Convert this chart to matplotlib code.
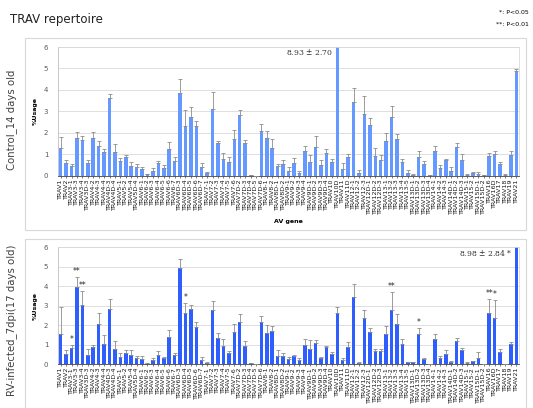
import numpy as np
import matplotlib
matplotlib.use("Agg")
import matplotlib.pyplot as plt
from matplotlib.patches import Rectangle

# TRAV gene segments (x axis)
genes = ["TRAV1", "TRAV2", "TRAV3-1", "TRAV3-3", "TRAV3-4", "TRAV3D-3",
         "TRAV4-2", "TRAV4-3", "TRAV4-4", "TRAV4D-3", "TRAV4D-4",
         "TRAV5-1", "TRAV5-2", "TRAV5-4", "TRAV5D-4",
         "TRAV6-1", "TRAV6-2", "TRAV6-3", "TRAV6-4", "TRAV6-5", "TRAV6-6", "TRAV6-7",
         "TRAV6D-3", "TRAV6D-4", "TRAV6D-5", "TRAV6D-6", "TRAV6D-7",
         "TRAV7-1", "TRAV7-2", "TRAV7-3", "TRAV7-4", "TRAV7-5", "TRAV7-6",
         "TRAV7D-2", "TRAV7D-3", "TRAV7D-4", "TRAV7D-5", "TRAV7D-6",
         "TRAV8-1", "TRAV8-2", "TRAV8D-1", "TRAV8D-2",
         "TRAV9-1", "TRAV9-2", "TRAV9-3", "TRAV9-4", "TRAV9D-1", "TRAV9D-2", "TRAV9D-3", "TRAV9D-4",
         "TRAV10", "TRAV10D", "TRAV11", "TRAV11D",
         "TRAV12-1", "TRAV12-2", "TRAV12-3", "TRAV12D-1", "TRAV12D-2", "TRAV12D-3",
         "TRAV13-1", "TRAV13-2", "TRAV13-3", "TRAV13-4", "TRAV13-5",
         "TRAV13D-1", "TRAV13D-2", "TRAV13D-3", "TRAV13D-4",
         "TRAV14-1", "TRAV14-2", "TRAV14-3", "TRAV14D-1", "TRAV14D-2", "TRAV14D-3",
         "TRAV15-1", "TRAV15-2", "TRAV15D-1", "TRAV15D-2",
         "TRAV16", "TRAV16D", "TRAV17", "TRAV18", "TRAV19", "TRAV21"]

# Control, 14 days old: mean %usage and SD
ctrl_mean = [1.31, 0.61, 0.47, 1.74, 1.66, 0.61, 1.77, 1.37, 1.09, 3.64,
             1.10, 0.70, 0.86, 0.45, 0.40, 0.30, 0.08, 0.22, 0.60, 0.37,
             1.26, 0.67, 3.86, 2.30, 2.75, 2.32, 0.39, 0.12, 3.09, 1.54,
             0.79, 0.65, 1.71, 2.83, 1.54, 0.02, 0.00, 2.10, 1.77, 1.31,
             0.45, 0.53, 0.22, 0.58, 0.14, 1.15, 0.65, 1.34, 0.51, 1.06,
             0.64, 8.93, 0.31, 0.87, 3.42, 0.12, 2.86, 2.36, 0.93, 0.71,
             1.63, 2.74, 1.70, 0.62, 0.14, 0.05, 0.87, 0.54, 0.03, 1.17,
             0.37, 0.71, 0.22, 1.32, 0.73, 0.05, 0.12, 0.09, 0.03, 0.93,
             1.00, 0.53, 0.05, 0.98, 4.88]
ctrl_sd = [0.49, 0.11, 0.08, 0.28, 0.19, 0.12, 0.27, 0.23, 0.14, 0.16,
           0.40, 0.12, 0.09, 0.18, 0.13, 0.10, 0.02, 0.13, 0.08, 0.11,
           0.31, 0.19, 0.64, 0.75, 0.45, 0.21, 0.20, 0.03, 0.80, 0.08,
           0.25, 0.21, 0.41, 0.22, 0.11, 0.01, 0.00, 0.30, 0.30, 0.39,
           0.09, 0.19, 0.17, 0.24, 0.07, 0.22, 0.30, 0.51, 0.24, 0.18,
           0.12, 2.70, 0.28, 0.14, 0.65, 0.13, 0.84, 0.32, 0.35, 0.24,
           0.34, 0.53, 0.24, 0.14, 0.11, 0.03, 0.30, 0.13, 0.02, 0.21,
           0.14, 0.05, 0.17, 0.22, 0.28, 0.05, 0.07, 0.07, 0.01, 0.11,
           0.17, 0.12, 0.01, 0.17, 0.11]

# RV-infected, 7 dpi (17 days old)
rv_mean = [1.57, 0.51, 0.84, 3.98, 3.03, 0.48, 0.87, 2.05, 1.06, 2.84,
           0.79, 0.38, 0.56, 0.50, 0.32, 0.29, 0.05, 0.24, 0.46, 0.31,
           1.38, 0.46, 4.96, 2.63, 2.84, 1.91, 0.22, 0.09, 2.79, 1.35,
           0.96, 0.56, 1.64, 2.17, 0.94, 0.05, 0.00, 2.17, 1.59, 1.69,
           0.44, 0.44, 0.27, 0.41, 0.20, 0.97, 0.79, 1.08, 0.32, 0.87,
           0.55, 2.61, 0.20, 0.91, 3.46, 0.09, 2.39, 1.64, 0.66, 0.68,
           1.55, 2.76, 2.08, 1.06, 0.12, 0.12, 1.53, 0.26, 0.03, 1.28,
           0.34, 0.51, 0.14, 1.21, 0.72, 0.09, 0.15, 0.32, 0.03, 2.61,
           2.35, 0.65, 0.03, 1.02, 8.98]
rv_sd = [1.35, 0.21, 0.15, 0.52, 0.71, 0.31, 0.12, 0.60, 0.44, 0.49,
         0.39, 0.18, 0.16, 0.22, 0.09, 0.15, 0.01, 0.08, 0.21, 0.07,
         0.38, 0.14, 0.46, 0.50, 0.20, 0.28, 0.14, 0.02, 0.44, 0.27,
         0.36, 0.11, 0.43, 0.39, 0.24, 0.01, 0.00, 0.33, 0.44, 0.29,
         0.28, 0.16, 0.12, 0.09, 0.14, 0.31, 0.44, 0.19, 0.07, 0.09,
         0.08, 0.35, 0.14, 0.22, 0.66, 0.02, 0.40, 0.22, 0.14, 0.12,
         0.43, 0.95, 0.51, 0.22, 0.02, 0.02, 0.34, 0.08, 0.01, 0.29,
         0.10, 0.24, 0.02, 0.15, 0.10, 0.01, 0.03, 0.33, 0.01, 0.75,
         0.95, 0.12, 0.01, 0.12, 2.84]

# significance marks on the RV-infected panel (gene -> mark)
rv_marks = {"TRAV3-1": "*", "TRAV3-3": "**", "TRAV3-4": "**", "TRAV6D-4": "*",
            "TRAV13-2": "**", "TRAV13D-2": "*", "TRAV16": "**", "TRAV16D": "*"}

W, H = 533, 408
fig = plt.figure(figsize=(W / 100, H / 100), dpi=100)


def fx(px):
    return px / W


def fy(py):
    return 1 - py / H


# outer chart boxes
for top, bot in [(38, 230), (239, 420)]:
    fig.patches.append(Rectangle((fx(25), fy(bot)), fx(526) - fx(25), fy(top) - fy(bot),
                                 transform=fig.transFigure, fill=False,
                                 edgecolor="#d9d9d9", lw=0.8))

fig.text(fx(10), fy(20), "TRAV repertoire", fontsize=8.5, va="center", ha="left",
         color="#222222")
fig.text(fx(529), fy(12), "*: P<0.05", fontsize=4.5, ha="right", va="center")
fig.text(fx(529), fy(25), "**: P<0.01", fontsize=4.5, ha="right", va="center")

fig.text(fx(12), fy(120), "Control_14 days old", rotation=90, fontsize=7.3,
         ha="center", va="center", color="#404040")
fig.text(fx(12), fy(320), "RV-infected_7dpi(17 days old)", rotation=90, fontsize=7.3,
         ha="center", va="center", color="#404040")


def draw_panel(rect, mean, sd, color):
    ax = fig.add_axes(rect)
    x = np.arange(len(genes))
    ax.bar(x, mean, width=0.65, color=color, zorder=2)
    ax.errorbar(x, mean, yerr=[np.zeros(len(sd)), sd], fmt="none", ecolor="#8c8c8c",
                elinewidth=0.6, capsize=1.2, capthick=0.6, zorder=3)
    ax.set_xlim(-0.5, len(genes) - 0.5)
    ax.set_ylim(0, 6)
    ax.set_yticks(range(7))
    ax.yaxis.grid(True, color="#d9d9d9", lw=0.6, zorder=0)
    ax.set_axisbelow(True)
    ax.set_xticks(x)
    ax.set_xticklabels(genes, rotation=90, fontsize=4.6)
    ax.tick_params(axis="x", length=1.5, width=0.4, pad=1, colors="#1a1a1a")
    ax.tick_params(axis="y", length=0, labelsize=5, colors="#595959", pad=7)
    for side in ["top", "right"]:
        ax.spines[side].set_color("#d9d9d9")
        ax.spines[side].set_linewidth(0.6)
    ax.spines["left"].set_color("#bfbfbf")
    ax.spines["left"].set_linewidth(0.6)
    ax.spines["bottom"].set_color("#404040")
    ax.spines["bottom"].set_linewidth(0.6)
    ax.set_ylabel("%Usage", fontsize=4.5, fontweight="bold", labelpad=4)
    ax.set_xlabel("AV gene", fontsize=4.5, fontweight="bold", labelpad=3)
    return ax


ax1 = draw_panel([fx(58), fy(175.7), fx(519) - fx(58), fy(47) - fy(175.7)],
                 ctrl_mean, ctrl_sd, "#6699ff")
ax2 = draw_panel([fx(58), fy(364.3), fx(519) - fx(58), fy(247.3) - fy(364.3)],
                 rv_mean, rv_sd, "#2f5eff")

# off-scale bars get their value written next to them
i = int(np.argmax(ctrl_mean))
ax1.text(i - 0.8, 5.78, f"{ctrl_mean[i]:.2f} $\\pm$ {ctrl_sd[i]:.2f}", ha="right",
         va="center", fontsize=5.5, family="DejaVu Serif", color="#333333")
i = int(np.argmax(rv_mean))
ax2.text(i - 0.8, 5.72, f"{rv_mean[i]:.2f} $\\pm$ {rv_sd[i]:.2f} *", ha="right",
         va="center", fontsize=5.5, family="DejaVu Serif", color="#333333")

for g, mark in rv_marks.items():
    k = genes.index(g)
    ax2.text(k, rv_mean[k] + rv_sd[k] + 0.05, mark, ha="center", va="bottom",
             fontsize=5.5, color="#222222")

fig.savefig("out.png", dpi=100)
